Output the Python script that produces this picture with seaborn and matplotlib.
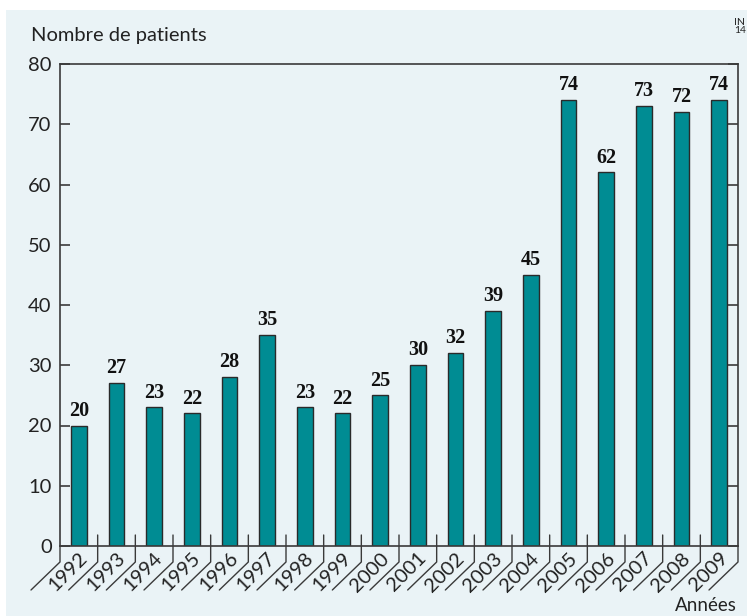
import matplotlib
matplotlib.use("Agg")
import matplotlib.pyplot as plt
import matplotlib.transforms as mtransforms
from matplotlib.patches import Rectangle
import seaborn as sns
import pandas as pd

years = ["1992", "1993", "1994", "1995", "1996", "1997", "1998", "1999", "2000",
         "2001", "2002", "2003", "2004", "2005", "2006", "2007", "2008", "2009"]
patients = [20, 27, 23, 22, 28, 35, 23, 22, 25, 30, 32, 39, 45, 74, 62, 73, 72, 74]
y_ticks = [0, 10, 20, 30, 40, 50, 60, 70, 80]

BG = "#eaf3f6"
TEAL = "#008c93"
LINE = "#3a3a3a"

sns.set_theme(style="white")
plt.rcParams["font.family"] = ["Lato", "DejaVu Sans"]

df = pd.DataFrame({"annee": years, "patients": patients})

fig = plt.figure(figsize=(7.47, 6.16), dpi=100)
fig.patch.set_facecolor("white")
fig.patches.append(Rectangle((6 / 747, 0), 1, 1 - 10 / 616, transform=fig.transFigure,
                             facecolor=BG, edgecolor="none", zorder=-10))

ax = fig.add_axes([60 / 747, 1 - 546 / 616, 678 / 747, 482 / 616])
ax.set_facecolor(BG)

sns.barplot(data=df, x="annee", y="patients", color=TEAL, saturation=1, width=0.41,
            edgecolor="#2a2a2a", linewidth=1.0, ax=ax)

ax.bar_label(ax.containers[0], padding=3.5, fontsize=14.5, fontweight="bold",
             family=["Liberation Serif", "DejaVu Serif"], color="#111111")

ax.set_xlim(-0.5, len(years) - 0.5)
ax.set_ylim(0, 80)
ax.set_yticks(y_ticks)
ax.set_yticklabels([str(t) for t in y_ticks], fontsize=14.5, color="#222222")
ax.set_xticks([])
ax.set_xlabel("")
ax.set_ylabel("")

ax.tick_params(axis="y", direction="in", length=7, width=1.2, color=LINE, pad=6,
               left=True, right=True, labelleft=True, labelright=False)
for side in ["left", "right", "top", "bottom"]:
    ax.spines[side].set_visible(True)
    ax.spines[side].set_color(LINE)
    ax.spines[side].set_linewidth(1.2)

# separators between years, with the slanted label boxes under the axis
trans = mtransforms.blended_transform_factory(ax.transData, ax.transAxes)
step_px = 678 / len(years)
dx = 29 / step_px
y_top = 11 / 482
y_mid = -16 / 482
y_low = -44 / 482
for i in range(len(years) + 1):
    xb = i - 0.5
    start = 0 if i in (0, len(years)) else y_top
    ax.plot([xb, xb, xb - dx], [start, y_mid, y_low], color=LINE, lw=1.0,
            transform=trans, clip_on=False)

for i, yr in enumerate(years):
    ax.text(i - 0.29, -26 / 482, yr, transform=trans, rotation=45, ha="center",
            va="center", fontsize=14.5, color="#222222")

fig.text(31 / 747, 1 - 36 / 616, "Nombre de patients", fontsize=14.5, color="#222222",
         ha="left", va="center")
fig.text(737 / 747, 1 - 597 / 616, "Années", fontsize=13.5, color="#222222",
         ha="right", va="top")
fig.text(734 / 747, 1 - 18 / 616, "IN\n14", fontsize=7.5, color="#222222",
         ha="left", va="top", linespacing=0.9)

fig.savefig("out.png", dpi=100, facecolor=fig.get_facecolor())
